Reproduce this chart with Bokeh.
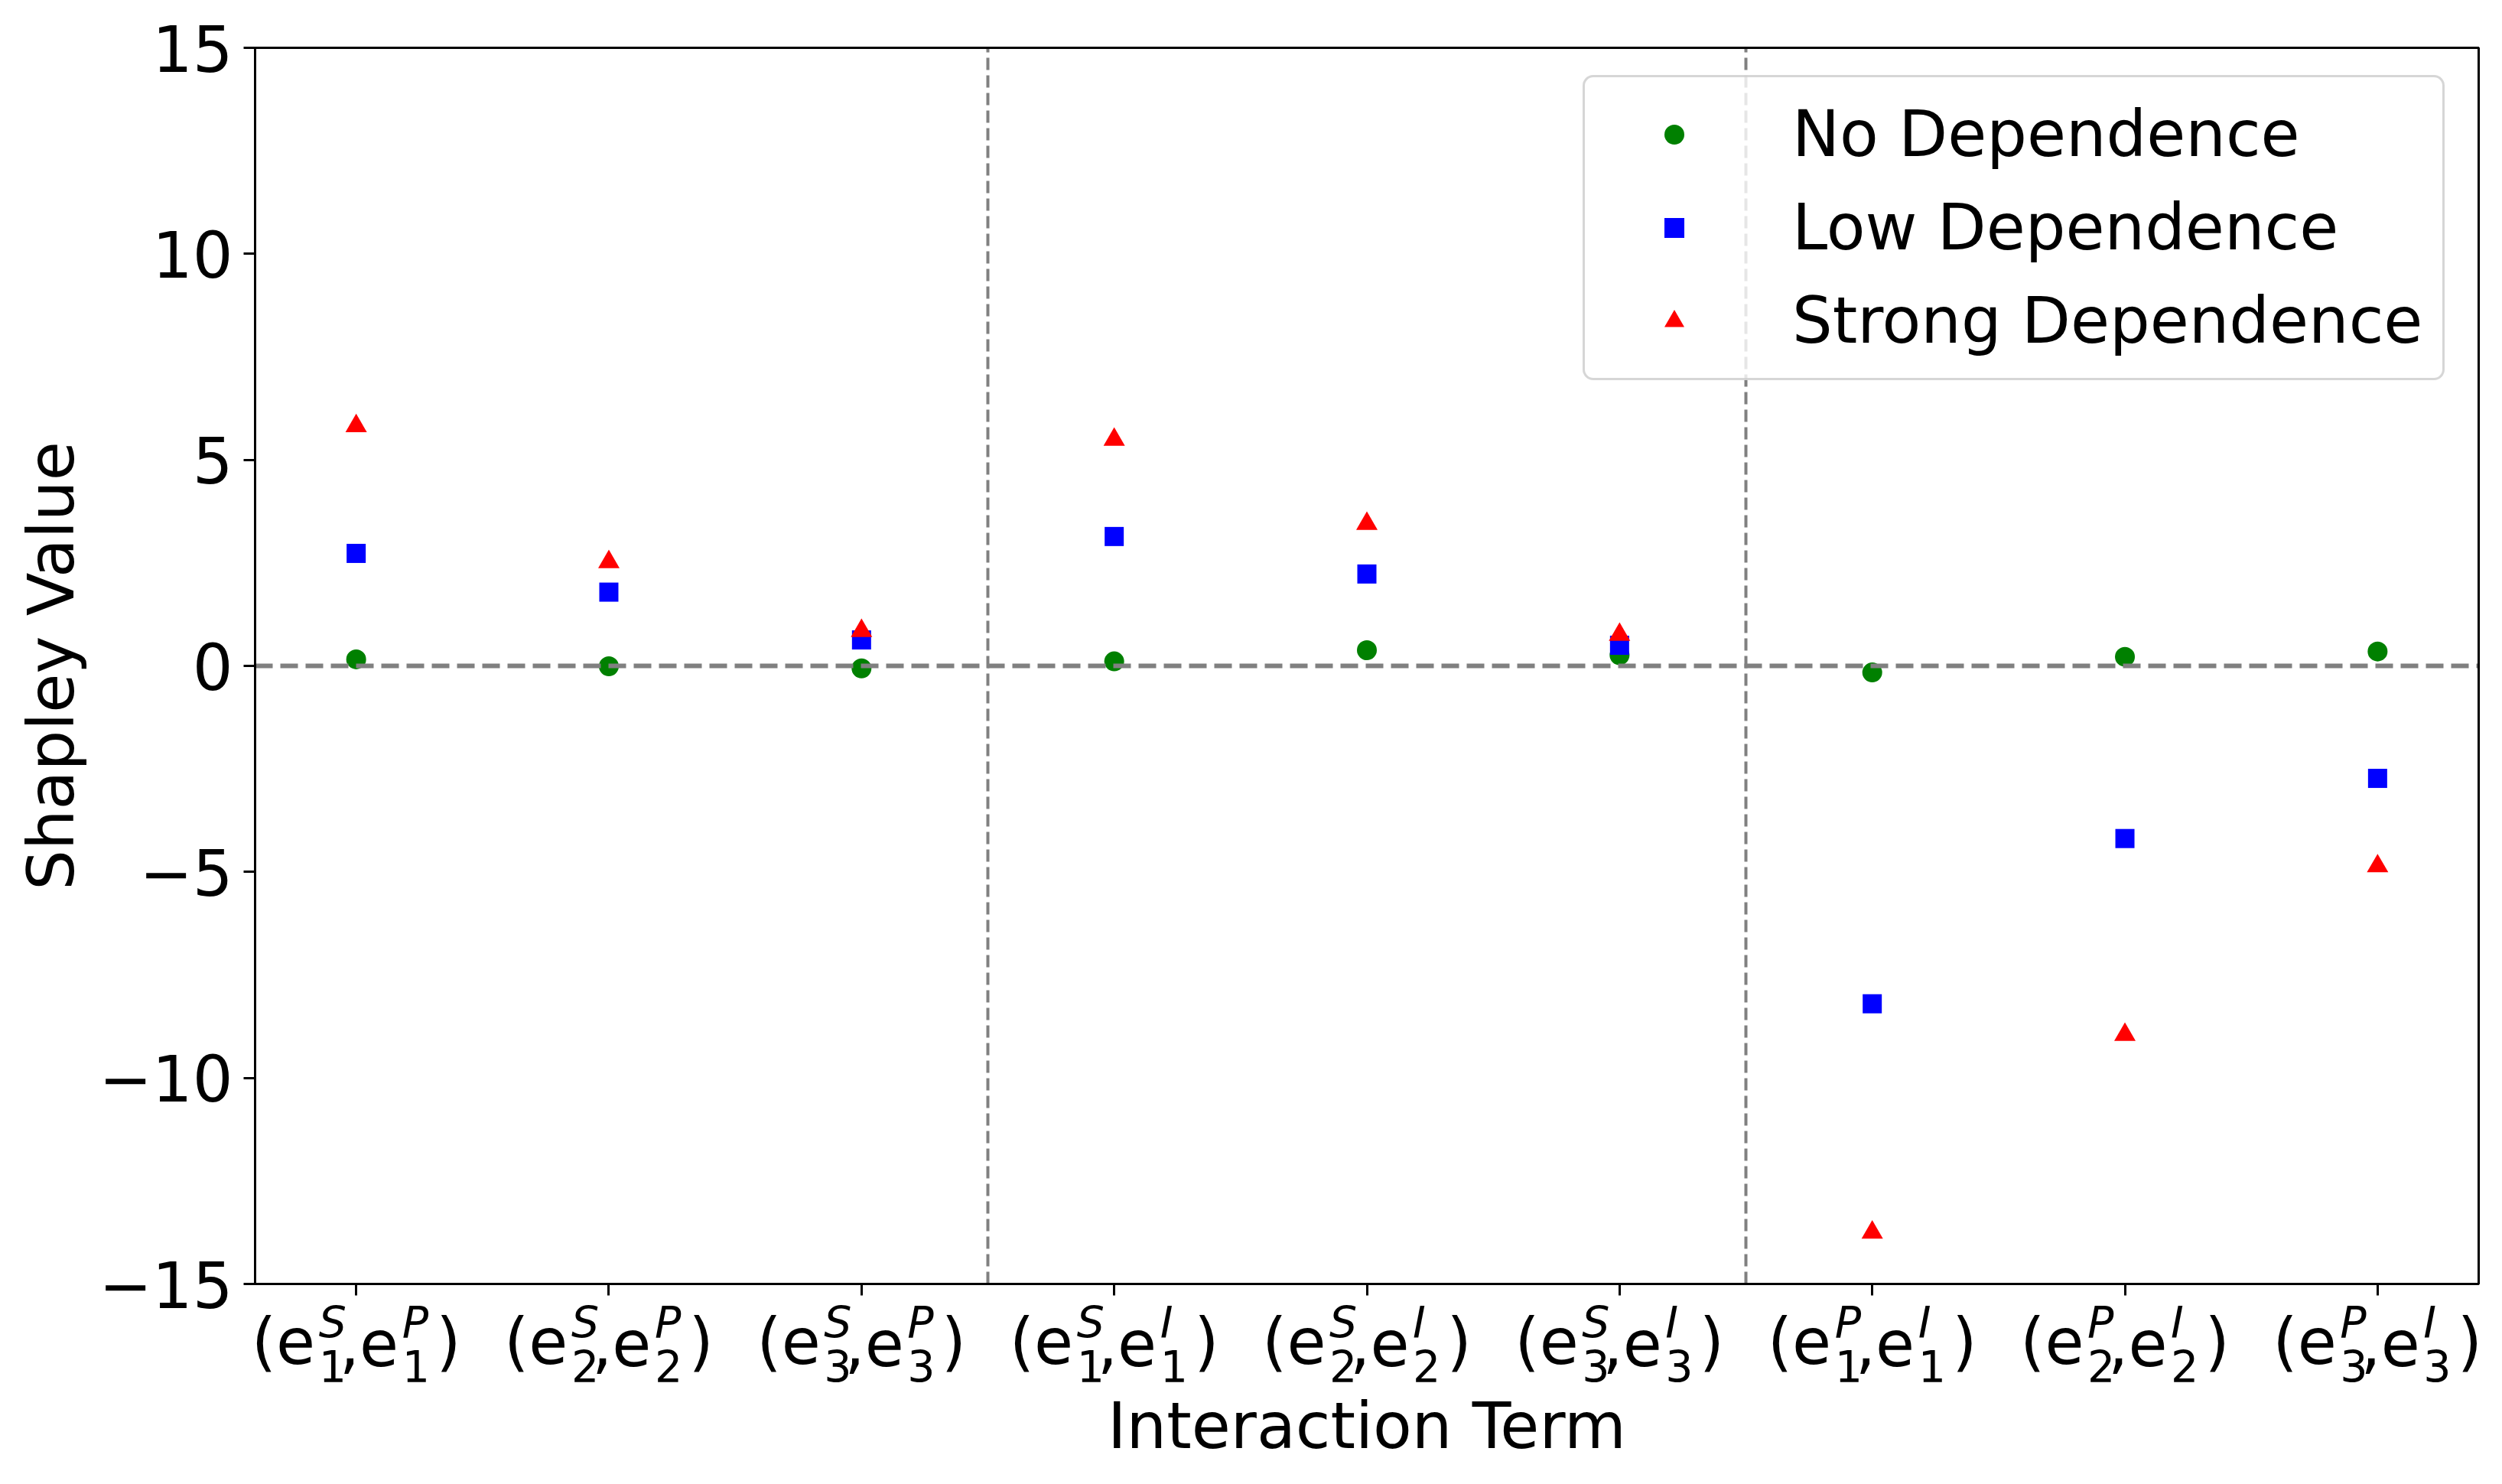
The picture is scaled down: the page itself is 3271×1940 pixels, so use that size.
import math
from bokeh.plotting import figure
from bokeh.models import (Range1d, FixedTicker, Legend, LegendItem,
                          ColumnDataSource, BoxAnnotation)
from bokeh.core.properties import value
from bokeh.embed import file_html
from bokeh.resources import INLINE

# ---------------- data ----------------
term_index = [0, 1, 2, 3, 4, 5, 6, 7, 8]
term_sub = ["1", "2", "3", "1", "2", "3", "1", "2", "3"]
term_first_sup = ["S", "S", "S", "S", "S", "S", "P", "P", "P"]
term_second_sup = ["P", "P", "P", "I", "I", "I", "I", "I", "I"]

no_dependence = [0.16, -0.01, -0.06, 0.11, 0.38, 0.26, -0.16, 0.22, 0.35]
low_dependence = [2.73, 1.79, 0.63, 3.14, 2.23, 0.50, -8.20, -4.19, -2.73]
strong_dependence = [5.82, 2.52, 0.85, 5.49, 3.45, 0.76, -13.75, -8.95, -4.86]

series_names = ["No Dependence", "Low Dependence", "Strong Dependence"]
x_title = "Interaction Term"
y_title = "Shapley Value"
y_ticks = [-15, -10, -5, 0, 5, 10, 15]
group_separators = [2.5, 5.5]
zero_level = 0
x_lo, x_hi = -0.4, 8.4
y_lo, y_hi = -15, 15

# ---------------- layout (pixels) ----------------
FONT = "DejaVu Sans"
FS = "83px"
FS_SCRIPT = "57px"
W, H = 3255, 1924
PLOT_LEFT, PLOT_RIGHT, PLOT_TOP, PLOT_BOTTOM = 333, 3240, 62, 1678
kx = (PLOT_RIGHT - PLOT_LEFT) / (x_hi - x_lo)
ky = (PLOT_BOTTOM - PLOT_TOP) / (y_hi - y_lo)
SHIFT_MAIN = 29      # baseline correction of the text glyphs (px)
SHIFT_SCRIPT = 20


def y_at(px):
    """data y of a page pixel row"""
    return y_lo - (px - PLOT_BOTTOM) / ky


p = figure(width=W, height=H, output_backend="svg", toolbar_location=None,
           title=None,
           x_range=Range1d(x_lo - PLOT_LEFT / kx, x_lo + (W - PLOT_LEFT) / kx),
           y_range=Range1d(y_at(H), y_at(0)),
           min_border_left=0, min_border_right=0,
           min_border_top=0, min_border_bottom=0)
p.grid.visible = False
p.outline_line_color = None
p.background_fill_color = "white"
p.border_fill_color = "white"

for ax in (p.xaxis[0], p.yaxis[0]):
    ax.axis_line_color = None
    ax.major_tick_line_width = 3
    ax.major_tick_line_color = "black"
    ax.major_tick_out = 15
    ax.major_tick_in = 0
    ax.minor_tick_line_color = None
    ax.major_label_text_font = FONT
    ax.major_label_text_font_size = FS
    ax.major_label_text_color = "black"

p.yaxis.fixed_location = x_lo
p.yaxis.ticker = FixedTicker(ticks=y_ticks)
p.yaxis.major_label_overrides = {t: str(t).replace("-", "\u2212") for t in y_ticks}
p.yaxis.major_label_standoff = 14

p.xaxis.fixed_location = y_lo
p.xaxis.ticker = FixedTicker(ticks=term_index)
p.xaxis.major_label_overrides = {i: "" for i in term_index}
p.xaxis.major_label_standoff = 0

# points
r_no = p.scatter(term_index, no_dependence, marker="circle", size=26,
                 fill_color="green", line_color=None)
r_low = p.scatter(term_index, low_dependence, marker="square", size=25,
                  fill_color="blue", line_color=None)
r_strong = p.scatter(term_index, strong_dependence, marker="triangle", size=28,
                     fill_color="red", line_color=None)

# reference lines (dashed)
p.segment(x0=[x_lo], y0=[zero_level], x1=[x_hi], y1=[zero_level],
          line_color="gray", line_width=6, line_dash="23 10")
p.segment(x0=group_separators, y0=[y_lo] * len(group_separators),
          x1=group_separators, y1=[y_hi] * len(group_separators),
          line_color="gray", line_width=4, line_dash="16 7")

# plot-area box
p.add_layout(BoxAnnotation(left=x_lo, right=x_hi, bottom=y_lo, top=y_hi,
                           fill_color=None, fill_alpha=0,
                           line_color="black", line_alpha=1, line_width=3))

# composed tick labels (e_i^A, e_i^B)
main_x, main_t, main_off = [], [], []
sub_x, sub_t, sub_off = [], [], []
sup_x, sup_t, sup_off = [], [], []
for i, sb, a, b in zip(term_index, term_sub, term_first_sup, term_second_sup):
    for txt, off in (("(e", -137), (",e", -22), (")", 104.5)):
        main_x.append(i); main_t.append(txt); main_off.append(off)
    for off in (-49, 60):
        sub_x.append(i); sub_t.append(sb); sub_off.append(off)
    sup_x += [i, i]; sup_t += [a, b]; sup_off += [-49, 60]

src_main = ColumnDataSource(dict(x=main_x, y=[y_at(1783 - SHIFT_MAIN)] * len(main_x),
                                 text=main_t, xo=main_off))
src_sub = ColumnDataSource(dict(x=sub_x, y=[y_at(1805 - SHIFT_SCRIPT)] * len(sub_x),
                                text=sub_t, xo=sub_off))
src_sup = ColumnDataSource(dict(x=sup_x, y=[y_at(1748 - SHIFT_SCRIPT)] * len(sup_x),
                                text=sup_t, xo=sup_off))

p.text(x="x", y="y", text="text", x_offset="xo", source=src_main,
       text_font=value(FONT), text_font_size=value(FS), text_color="black",
       text_align="left", text_baseline="alphabetic")
p.text(x="x", y="y", text="text", x_offset="xo", source=src_sub,
       text_font=value(FONT), text_font_size=value(FS_SCRIPT), text_color="black",
       text_align="left", text_baseline="alphabetic")
p.text(x="x", y="y", text="text", x_offset="xo", source=src_sup,
       text_font=value(FONT), text_font_size=value(FS_SCRIPT), text_color="black",
       text_font_style="italic", text_align="left", text_baseline="alphabetic")

# axis titles
p.text(x=[(x_lo + x_hi) / 2], y=[y_at(1893 - SHIFT_MAIN)], text=[x_title],
       text_font=value(FONT), text_font_size=value(FS), text_color="black",
       text_align="center", text_baseline="alphabetic")
p.text(x=[x_lo], y=[(y_lo + y_hi) / 2], text=[y_title],
       x_offset=95.5 - SHIFT_MAIN - PLOT_LEFT, angle=math.pi / 2,
       text_font=value(FONT), text_font_size=value(FS), text_color="black",
       text_align="center", text_baseline="alphabetic")

legend_kw = dict(location=(2069, H - 497), padding=26, spacing=25,
                 glyph_width=181, glyph_height=65, label_height=65,
                 label_standoff=64, label_text_font=FONT, label_text_font_size=FS,
                 label_text_color="black",
                 border_line_color="#cccccc", border_line_alpha=0.8, border_line_width=3,
                 background_fill_color="white", background_fill_alpha=0.8)
if "border_radius" in Legend.properties():
    legend_kw["border_radius"] = 14
legend = Legend(items=[LegendItem(label=series_names[0], renderers=[r_no]),
                       LegendItem(label=series_names[1], renderers=[r_low]),
                       LegendItem(label=series_names[2], renderers=[r_strong])],
                **legend_kw)
p.add_layout(legend)

open("out.html", "w").write(file_html(p, INLINE))
